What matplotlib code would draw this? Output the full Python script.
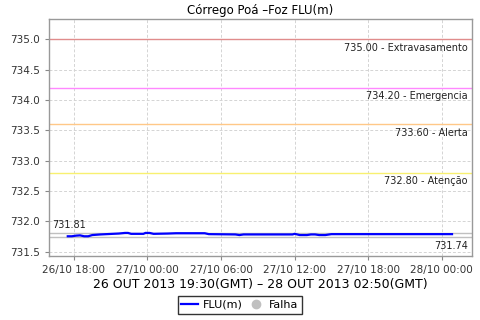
import matplotlib
matplotlib.use("Agg")
import matplotlib.pyplot as plt
import matplotlib.dates as mdates
from matplotlib.lines import Line2D
import datetime

# leituras do nível (hora local, valor em m)
times = ["26/10 17:30", "26/10 17:50", "26/10 18:10", "26/10 18:30", "26/10 18:50",
         "26/10 19:10", "26/10 19:30", "26/10 20:10", "26/10 20:40", "26/10 21:40",
         "26/10 22:10", "26/10 22:25", "26/10 22:40", "26/10 23:40", "26/10 23:50",
         "27/10 00:10", "27/10 00:30", "27/10 01:40", "27/10 02:20", "27/10 04:40",
         "27/10 05:00", "27/10 07:10", "27/10 07:30", "27/10 07:50", "27/10 11:50",
         "27/10 12:00", "27/10 12:25", "27/10 13:00", "27/10 13:20", "27/10 13:40",
         "27/10 14:00", "27/10 14:30", "27/10 15:00", "28/10 00:50"]
levels = [731.755, 731.755, 731.765, 731.77, 731.755,
          731.755, 731.775, 731.785, 731.79, 731.80,
          731.81, 731.81, 731.795, 731.795, 731.81,
          731.81, 731.795, 731.80, 731.805, 731.805,
          731.79, 731.785, 731.775, 731.785, 731.785,
          731.795, 731.775, 731.775, 731.785, 731.785,
          731.775, 731.775, 731.79, 731.79]

# cotas de referência
limit_values = [735.00, 734.20, 733.60, 732.80]
limit_names = ["Extravasamento", "Emergencia", "Alerta", "Atenção"]
limit_colors = ["#e08c8c", "#ff88ff", "#ffc888", "#f8f070"]

max_val = 731.81
min_val = 731.74

x_ticks = ["26/10 18:00", "27/10 00:00", "27/10 06:00", "27/10 12:00",
           "27/10 18:00", "28/10 00:00"]


def parse(s):
    return datetime.datetime.strptime("2013/" + s, "%Y/%d/%m %H:%M")


t = [parse(s) for s in times]

fig = plt.figure(figsize=(4.8, 3.2), dpi=100)
ax = fig.add_axes([0.102, 0.2, 0.881, 0.74])

ax.set_xlim(parse("26/10 15:58"), parse("28/10 02:27"))
ax.set_ylim(731.43, 735.33)

ax.grid(True, color="#d4d4d4", linestyle=(0, (3, 2)), linewidth=0.7)
ax.set_axisbelow(True)

for v, name, c in zip(limit_values, limit_names, limit_colors):
    ax.axhline(v, color=c, linewidth=1.0)
    ax.text(0.99, v - 0.06, "%.2f - %s" % (v, name), transform=ax.get_yaxis_transform(),
            ha="right", va="top", fontsize=7, color="#222222")

ax.axhline(max_val, color="#c0c0c0", linewidth=1.0)
ax.axhline(min_val, color="#c0c0c0", linewidth=1.0)
ax.text(0.007, max_val + 0.04, "%.2f" % max_val, transform=ax.get_yaxis_transform(),
        ha="left", va="bottom", fontsize=7, color="#222222")
ax.text(0.99, min_val - 0.06, "%.2f" % min_val, transform=ax.get_yaxis_transform(),
        ha="right", va="top", fontsize=7, color="#222222")

ax.plot(t, levels, color="#0000ff", linewidth=1.6)

ax.set_yticks([731.5 + 0.5 * i for i in range(8)])
ax.yaxis.set_major_formatter(matplotlib.ticker.FormatStrFormatter("%.1f"))
ax.set_xticks([parse(s) for s in x_ticks])
ax.set_xticklabels(x_ticks)
ax.tick_params(labelsize=7.5, colors="#888888", labelcolor="#333333", length=3, width=0.8)

for sp in ax.spines.values():
    sp.set_color("#999999")
    sp.set_linewidth(1.0)

ax.set_title("Córrego Poá –Foz FLU(m)", fontsize=8.5, pad=4)
ax.set_xlabel("26 OUT 2013 19:30(GMT) – 28 OUT 2013 02:50(GMT)", fontsize=9, labelpad=2)

handles = [Line2D([], [], color="#0000ff", linewidth=1.6),
           Line2D([], [], color="#c0c0c0", marker="o", linestyle="none", markersize=6)]
leg = fig.legend(handles, ["FLU(m)", "Falha"], loc="center", bbox_to_anchor=(0.5, 0.047),
                 ncol=2, fontsize=8, frameon=True, fancybox=False, handlelength=1.5,
                 handletextpad=0.4, columnspacing=0.5, borderpad=0.35, borderaxespad=0)
leg.get_frame().set_edgecolor("black")
leg.get_frame().set_linewidth(1.0)

fig.savefig("out.png", dpi=100)
